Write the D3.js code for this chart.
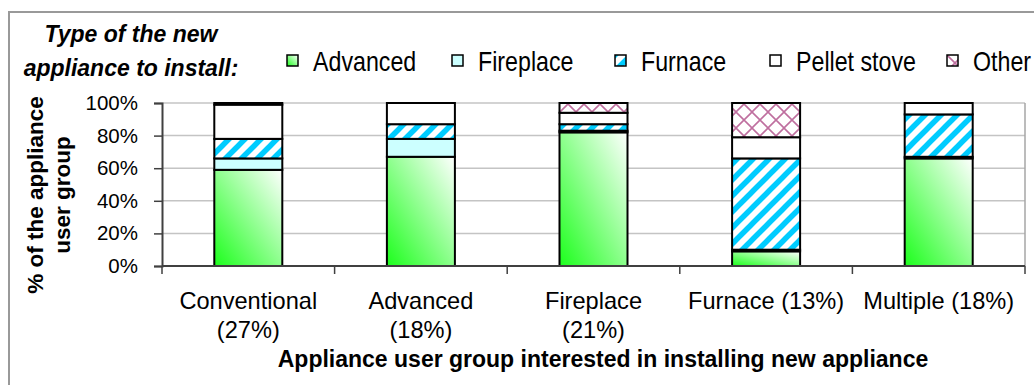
<!DOCTYPE html>
<html>
<head>
<meta charset="utf-8">
<script src="https://cdn.jsdelivr.net/npm/d3@7"></script>
<style>
  html, body { margin: 0; padding: 0; background: #fff; }
  svg { display: block; }
  text { font-family: "Liberation Sans", Arial, sans-serif; fill: #000; }
</style>
</head>
<body>
<svg id="chart" width="1034" height="385"></svg>
<script>
// Appliance user groups (share of respondents in brackets)
const categories = ["Conventional (27%)", "Advanced (18%)", "Fireplace (21%)", "Furnace (13%)", "Multiple (18%)"];
const categoryLines = [["Conventional", "(27%)"], ["Advanced", "(18%)"], ["Fireplace", "(21%)"], ["Furnace (13%)"], ["Multiple (18%)"]];

// Type of new appliance to install, % of each user group
const seriesNames = ["Advanced", "Fireplace", "Furnace", "Pellet stove", "Other"];
const advanced    = [59, 67, 82,  9, 66];
const fireplace   = [ 7, 11,  1,  1,  1];
const furnace     = [12,  9,  4, 56, 26];
const pelletStove = [21, 13,  7, 13,  7];
const other       = [ 1,  0,  6, 21,  0];

const yTicks = [0, 20, 40, 60, 80, 100];
const yTickLabels = ["0%", "20%", "40%", "60%", "80%", "100%"];

const legendTitle = ["Type of the new", "appliance to install:"];
const yTitle = ["% of the appliance", "user group"];
const xTitle = "Appliance user group interested in installing new appliance";

const seriesValues = [advanced, fireplace, furnace, pelletStove, other];
const table = categories.map((c, i) => {
  const row = { category: c };
  seriesNames.forEach((s, k) => { row[s] = seriesValues[k][i]; });
  return row;
});

const svg = d3.select("#chart");
const defs = svg.append("defs");

// green diagonal gradient, bright at lower left fading to white
const grad = defs.append("linearGradient")
  .attr("id", "fillAdvanced")
  .attr("x1", 0).attr("y1", 1).attr("x2", 1).attr("y2", 0);
grad.append("stop").attr("offset", "0%").attr("stop-color", "#1cff1c");
grad.append("stop").attr("offset", "100%").attr("stop-color", "#ffffff");

// wide upward diagonal stripes
const stripes = defs.append("pattern")
  .attr("id", "fillFurnace")
  .attr("patternUnits", "userSpaceOnUse")
  .attr("width", 16).attr("height", 16);
stripes.append("rect").attr("width", 16).attr("height", 16).attr("fill", "#fff");
stripes.append("path")
  .attr("d", "M-4,4 L4,-4 M0,16 L16,0 M12,20 L20,12")
  .attr("stroke", "#00ccff").attr("stroke-width", 5.5);

// diagonal cross-hatch
const hatch = defs.append("pattern")
  .attr("id", "fillOther")
  .attr("patternUnits", "userSpaceOnUse")
  .attr("width", 16).attr("height", 16);
hatch.append("rect").attr("width", 16).attr("height", 16).attr("fill", "#fff");
hatch.append("path")
  .attr("d", "M0,0 L16,16 M16,0 L0,16")
  .attr("stroke", "#bf6f9f").attr("stroke-width", 1.6);

const fills = {
  "Advanced": "url(#fillAdvanced)",
  "Fireplace": "#ccffff",
  "Furnace": "url(#fillFurnace)",
  "Pellet stove": "#ffffff",
  "Other": "url(#fillOther)"
};

// outer chart frame
svg.append("rect")
  .attr("x", 9).attr("y", 12).attr("width", 1100).attr("height", 420)
  .attr("fill", "none").attr("stroke", "#999").attr("stroke-width", 2);

const plot = { left: 162, right: 1025, top: 103, bottom: 266 };

const x = d3.scaleBand()
  .domain(categories)
  .range([plot.left, plot.right])
  .paddingInner(0.606)
  .paddingOuter(0.303);

const y = d3.scaleLinear().domain([0, 100]).range([plot.bottom, plot.top]);

// gridlines
svg.append("g").selectAll("line")
  .data(yTicks.filter(v => v > 0))
  .join("line")
  .attr("x1", plot.left).attr("x2", plot.right)
  .attr("y1", d => y(d)).attr("y2", d => y(d))
  .attr("stroke", "#c4c4c4").attr("stroke-width", 1.5);

// right edge of plot area
svg.append("line")
  .attr("x1", plot.right).attr("x2", plot.right)
  .attr("y1", plot.top).attr("y2", plot.bottom)
  .attr("stroke", "#a6a6a6").attr("stroke-width", 1.5);

// stacked bars
const stacked = d3.stack().keys(seriesNames)(table);
svg.append("g").selectAll("g")
  .data(stacked)
  .join("g")
  .attr("fill", d => fills[d.key])
  .selectAll("rect")
  .data(d => d.filter(s => s[1] - s[0] > 0))
  .join("rect")
  .attr("x", d => x(d.data.category))
  .attr("width", x.bandwidth())
  .attr("y", d => y(d[1]))
  .attr("height", d => y(d[0]) - y(d[1]))
  .attr("stroke", "#000").attr("stroke-width", 2);

// y axis
const yAxis = d3.axisLeft(y)
  .tickValues(yTicks)
  .tickFormat((d, i) => yTickLabels[i])
  .tickSize(8)
  .tickPadding(16);
const gy = svg.append("g").attr("transform", `translate(${plot.left},0)`).call(yAxis);
gy.select(".domain").attr("stroke", "#404040").attr("stroke-width", 2);
gy.selectAll(".tick line").attr("stroke", "#404040").attr("stroke-width", 1.5);
gy.selectAll(".tick text")
  .attr("font-family", "Liberation Sans, Arial, sans-serif")
  .attr("font-size", 20.5).attr("fill", "#000");

// x axis: ticks at category boundaries
const boundaries = d3.range(categories.length + 1).map(i => plot.left + i * x.step());
svg.append("line")
  .attr("x1", plot.left).attr("x2", plot.right)
  .attr("y1", plot.bottom).attr("y2", plot.bottom)
  .attr("stroke", "#404040").attr("stroke-width", 2);
svg.append("g").selectAll("line")
  .data(boundaries)
  .join("line")
  .attr("x1", d => d).attr("x2", d => d)
  .attr("y1", plot.bottom).attr("y2", plot.bottom + 8)
  .attr("stroke", "#404040").attr("stroke-width", 1.5);

// category labels
const catG = svg.append("g").attr("font-size", 23.6).attr("text-anchor", "middle");
categories.forEach((c, i) => {
  const cx = x(c) + x.bandwidth() / 2;
  categoryLines[i].forEach((line, j) => {
    catG.append("text").attr("x", cx).attr("y", 309 + j * 29).text(line);
  });
});

// axis titles
svg.append("text")
  .attr("x", 603).attr("y", 367)
  .attr("text-anchor", "middle")
  .attr("font-size", 23).attr("font-weight", "bold")
  .text(xTitle);

const yt = svg.append("g").attr("transform", "translate(0,195) rotate(-90)");
yTitle.forEach((line, j) => {
  yt.append("text")
    .attr("x", 0).attr("y", 43 + j * 27)
    .attr("text-anchor", "middle")
    .attr("font-size", 22.5).attr("font-weight", "bold")
    .text(line);
});

// legend title
legendTitle.forEach((line, j) => {
  svg.append("text")
    .attr("x", 131).attr("y", 42 + j * 34)
    .attr("text-anchor", "middle")
    .attr("font-size", 23).attr("font-weight", "bold").attr("font-style", "italic")
    .text(line);
});

// legend entries (condensed labels)
const legendX = [287, 452, 615, 770, 947];
const lg = svg.append("g").selectAll("g")
  .data(seriesNames)
  .join("g")
  .attr("transform", (d, i) => `translate(${legendX[i]},55)`);
lg.append("rect")
  .attr("width", 11).attr("height", 11)
  .attr("fill", d => fills[d])
  .attr("stroke", "#000").attr("stroke-width", 1.5);
lg.append("text")
  .attr("transform", "translate(26,16) scale(0.86,1)")
  .attr("font-size", 27)
  .text(d => d);
</script>
</body>
</html>
